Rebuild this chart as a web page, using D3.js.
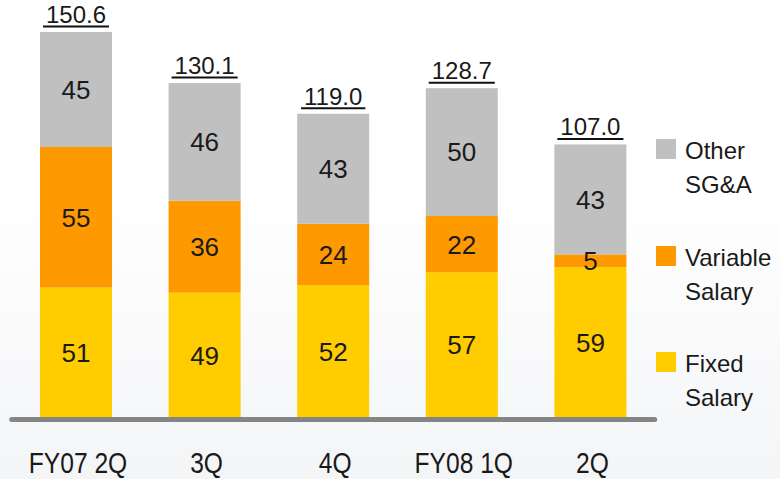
<!DOCTYPE html>
<html>
<head>
<meta charset="utf-8">
<script src="https://cdn.jsdelivr.net/npm/d3@7"></script>
<style>
  html, body { margin: 0; padding: 0; background: #fff; }
  svg { display: block; font-family: "Liberation Sans", Arial, sans-serif; }
</style>
</head>
<body>
<svg id="chart" width="780" height="479"></svg>
<script>
// SG&A breakdown by quarter
const categories = ["FY07 2Q", "3Q", "4Q", "FY08 1Q", "2Q"];
const fixedSalary = [51, 49, 52, 57, 59];
const variableSalary = [55, 36, 24, 22, 5];
const otherSGA = [45, 46, 43, 50, 43];
const totals = [150.6, 130.1, 119.0, 128.7, 107.0];

const seriesKeys = ["fixed", "variable", "other"];
const seriesColors = { fixed: "#ffcc00", variable: "#ff9900", other: "#c0c0c0" };
const legendLabels = [
  { key: "other", lines: ["Other", "SG&A"] },
  { key: "variable", lines: ["Variable", "Salary"] },
  { key: "fixed", lines: ["Fixed", "Salary"] }
];

const rows = categories.map((c, i) => ({
  cat: c, fixed: fixedSalary[i], variable: variableSalary[i], other: otherSGA[i], total: totals[i]
}));

const svg = d3.select("#chart");
const W = 780, H = 479;

// soft background wash
const defs = svg.append("defs");
const grad = defs.append("linearGradient").attr("id", "bg").attr("x1", 0).attr("y1", 0).attr("x2", 0).attr("y2", 1);
grad.append("stop").attr("offset", "0%").attr("stop-color", "#ffffff");
grad.append("stop").attr("offset", "40%").attr("stop-color", "#ffffff");
grad.append("stop").attr("offset", "100%").attr("stop-color", "#f4f5f7");
svg.append("rect").attr("width", W).attr("height", H).attr("fill", "url(#bg)");

const x = d3.scaleBand()
  .domain(categories)
  .range([11.7, 654.7])
  .paddingInner(0.44)
  .paddingOuter(0.22);

const y = d3.scaleLinear().domain([0, 163.5]).range([418, 0]);

const stacked = d3.stack().keys(seriesKeys)(rows);

const layers = svg.append("g").selectAll("g")
  .data(stacked)
  .join("g")
  .attr("fill", d => seriesColors[d.key]);

layers.selectAll("rect")
  .data(d => d)
  .join("rect")
  .attr("x", d => x(d.data.cat))
  .attr("width", x.bandwidth())
  .attr("y", d => y(d[1]))
  .attr("height", d => y(d[0]) - y(d[1]));

// segment value labels
const segLabels = svg.append("g")
  .attr("font-size", 26)
  .attr("fill", "#1a1a1a")
  .attr("text-anchor", "middle");

stacked.forEach(layer => {
  layer.forEach(d => {
    const v = d[1] - d[0];
    segLabels.append("text")
      .attr("x", x(d.data.cat) + x.bandwidth() / 2)
      .attr("y", (y(d[0]) + y(d[1])) / 2)
      .attr("dy", "0.36em")
      .text(d3.format("d")(v));
  });
});

// totals, underlined, above each bar
const totalG = svg.append("g");
rows.forEach(r => {
  const top = y(r.fixed + r.variable + r.other);
  const cx = x(r.cat) + x.bandwidth() / 2;
  const t = totalG.append("text")
    .attr("x", cx)
    .attr("y", top - 9)
    .attr("text-anchor", "middle")
    .attr("font-size", 24)
    .attr("fill", "#1a1a1a")
    .text(d3.format(".1f")(r.total));
  const bb = t.node().getBBox();
  totalG.append("line")
    .attr("x1", bb.x - 3).attr("x2", bb.x + bb.width + 3)
    .attr("y1", top - 5.5).attr("y2", top - 5.5)
    .attr("stroke", "#111").attr("stroke-width", 2);
});

// baseline
svg.append("line")
  .attr("x1", x.range()[0]).attr("x2", x.range()[1])
  .attr("y1", 419.5).attr("y2", 419.5)
  .attr("stroke", "#858585")
  .attr("stroke-width", 5)
  .attr("stroke-linecap", "round");

// category axis labels (condensed)
const catG = svg.append("g").attr("fill", "#1a1a1a");
categories.forEach(c => {
  const cx = x(c) + x.bandwidth() / 2 + 2;
  catG.append("text")
    .attr("transform", `translate(${cx},473) scale(0.82,1)`)
    .attr("text-anchor", "middle")
    .attr("font-size", 30)
    .text(c);
});

// legend
const legend = svg.append("g");
const legendY = { other: 139, variable: 246, fixed: 352 };
legendLabels.forEach(item => {
  const y0 = legendY[item.key];
  legend.append("rect")
    .attr("x", 656).attr("y", y0)
    .attr("width", 20).attr("height", 20)
    .attr("fill", seriesColors[item.key]);
  item.lines.forEach((ln, j) => {
    legend.append("text")
      .attr("x", 685)
      .attr("y", y0 + 20 + j * 34)
      .attr("font-size", 24)
      .attr("fill", "#1a1a1a")
      .text(ln);
  });
});
</script>
</body>
</html>
